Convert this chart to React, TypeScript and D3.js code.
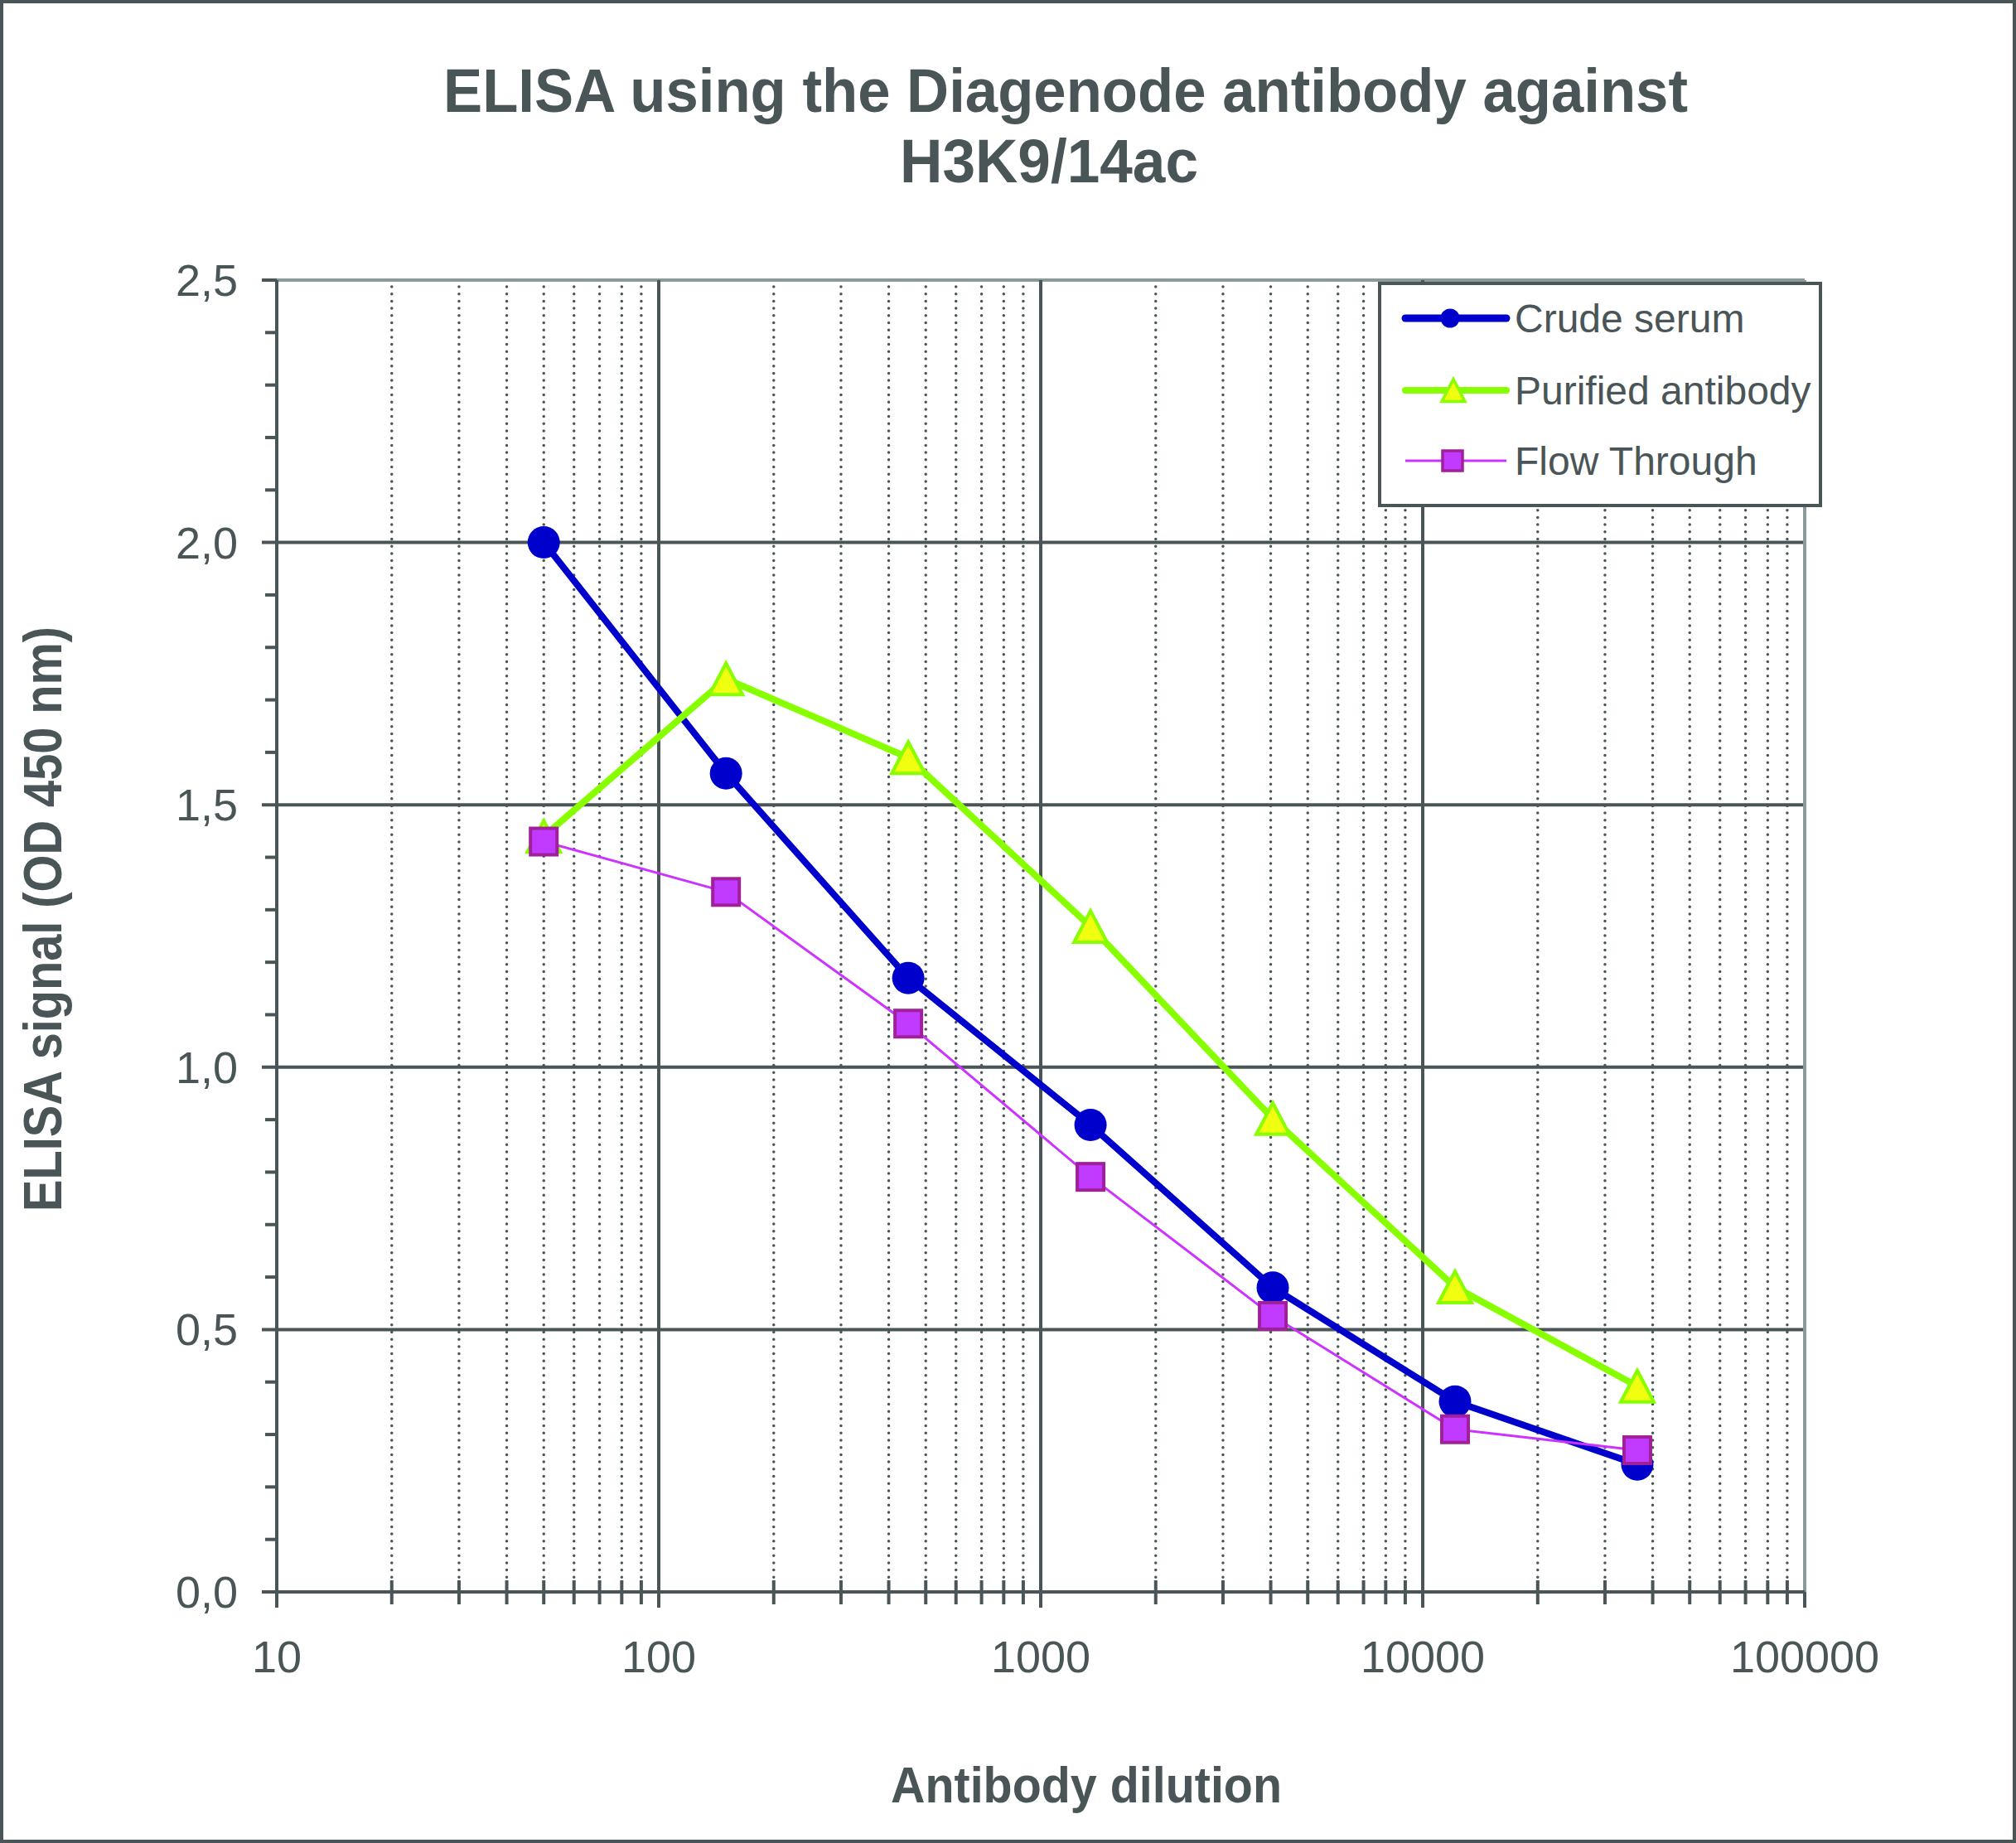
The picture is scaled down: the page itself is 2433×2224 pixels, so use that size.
import * as React from 'react';
import * as d3 from 'd3';

// dilution factors (x) and OD readings per series
const dilutions = [50, 150, 450, 1350, 4050, 12150, 36450];
const crudeSerum = [2.0, 1.56, 1.17, 0.89, 0.58, 0.363, 0.243];
const purifiedAntibody = [1.44, 1.74, 1.59, 1.268, 0.902, 0.581, 0.392];
const flowThrough = [1.43, 1.334, 1.083, 0.791, 0.526, 0.31, 0.27];

const seriesNames = ['Crude serum', 'Purified antibody', 'Flow Through'];
const yTicks = [0, 0.5, 1, 1.5, 2, 2.5];
const yTickLabels = ['0,0', '0,5', '1,0', '1,5', '2,0', '2,5'];
const xTicks = [10, 100, 1000, 10000, 100000];
const xTickLabels = ['10', '100', '1000', '10000', '100000'];

const W = 2433;
const H = 2224;
const INK = '#4a5557';
const LIGHT = '#8a9a98';
const FONT = '"Liberation Sans", Arial, sans-serif';

interface Point { x: number; y: number; }

export default function App() {
    const x = d3.scaleLog().domain([10, 100000]).range([334, 2178]);
    const y = d3.scaleLinear().domain([0, 2.5]).range([1921, 338]);

    const minorX: number[] = [];
    for (let dec = 10; dec < 100000; dec *= 10)
        for (let k = 2; k <= 9; k++) minorX.push(dec * k);
    const minorY = d3.range(0, 26).map(i => i / 10).filter(v => Math.round(v * 10) % 5 !== 0);

    const line = d3.line<Point>().x(p => x(p.x)).y(p => y(p.y));
    const pts = (vals: number[]) => dilutions.map((d, i) => ({ x: d, y: vals[i] }));

    const tri = (cx: number, cy: number, w: number, h: number) =>
        `M${cx},${cy - h / 2}L${cx + w / 2},${cy + h / 2}L${cx - w / 2},${cy + h / 2}Z`;

    const [left, right] = x.range();
    const [bottom, top] = y.range();

    const legendRows = [384, 471, 556];

    return (
        <svg width={W} height={H} style={{ position: 'absolute', left: 0, top: 0, display: 'block', background: '#fff' }}>
            <rect x={2} y={2} width={W - 4} height={H - 4} fill="#fff" stroke={INK} strokeWidth={4} />

            {/* titles */}
            <text x={1286} y={135} textAnchor="middle" fontFamily={FONT} fontWeight="bold" fontSize={74} fill={INK}
                textLength={1502} lengthAdjust="spacingAndGlyphs">ELISA using the Diagenode antibody against</text>
            <text x={1266} y={220} textAnchor="middle" fontFamily={FONT} fontWeight="bold" fontSize={74} fill={INK}
                textLength={360} lengthAdjust="spacingAndGlyphs">H3K9/14ac</text>
            <text transform="translate(74,1109) rotate(-90)" textAnchor="middle" fontFamily={FONT} fontWeight="bold"
                fontSize={64} fill={INK} textLength={706} lengthAdjust="spacingAndGlyphs">ELISA signal (OD 450 nm)</text>
            <text x={1311} y={2175} textAnchor="middle" fontFamily={FONT} fontWeight="bold" fontSize={62} fill={INK}
                textLength={472} lengthAdjust="spacingAndGlyphs">Antibody dilution</text>

            {/* minor vertical grid (dotted) */}
            {minorX.map(v => (
                <g key={'mx' + v}>
                    <line x1={x(v)} x2={x(v)} y1={top + 8} y2={bottom - 16} stroke={INK} strokeWidth={3.5}
                        strokeDasharray="0 8.7" strokeLinecap="round" />
                    <line x1={x(v)} x2={x(v)} y1={bottom - 14} y2={bottom + 15} stroke={INK} strokeWidth={4} />
                </g>
            ))}

            {/* major horizontal grid */}
            {yTicks.map(v => (
                <line key={'gy' + v} x1={316} x2={right} y1={y(v)} y2={y(v)}
                    stroke={v === 2.5 ? LIGHT : INK} strokeWidth={4} />
            ))}
            <line x1={316} x2={left} y1={top} y2={top} stroke={INK} strokeWidth={4} />
            {minorY.map(v => (
                <line key={'my' + v} x1={320} x2={left} y1={y(v)} y2={y(v)} stroke={INK} strokeWidth={4} />
            ))}

            {/* major vertical grid */}
            {xTicks.map(v => (
                <line key={'gx' + v} x1={x(v)} x2={x(v)} y1={top} y2={bottom + 19}
                    stroke={v === 100000 ? LIGHT : INK} strokeWidth={4} />
            ))}
            <line x1={right} x2={right} y1={bottom} y2={bottom + 19} stroke={INK} strokeWidth={4} />

            {/* axes */}
            <line x1={left} x2={left} y1={top} y2={bottom + 19} stroke={INK} strokeWidth={4} />
            <line x1={316} x2={right} y1={bottom} y2={bottom} stroke={INK} strokeWidth={4} />

            {/* tick labels */}
            {yTicks.map((v, i) => (
                <text key={'ly' + v} x={287} y={y(v) + 19} textAnchor="end" fontFamily={FONT} fontSize={54} fill={INK}>
                    {yTickLabels[i]}
                </text>
            ))}
            {xTicks.map((v, i) => (
                <text key={'lx' + v} x={x(v)} y={2018} textAnchor="middle" fontFamily={FONT} fontSize={54} fill={INK}>
                    {xTickLabels[i]}
                </text>
            ))}

            {/* Crude serum */}
            <path d={line(pts(crudeSerum)) || undefined} fill="none" stroke="#0000cc" strokeWidth={8} strokeLinejoin="round" />
            {pts(crudeSerum).map((p, i) => (
                <circle key={'c' + i} cx={x(p.x)} cy={y(p.y)} r={19.5} fill="#0000cc" />
            ))}

            {/* Purified antibody */}
            <path d={line(pts(purifiedAntibody)) || undefined} fill="none" stroke="#88ff00" strokeWidth={8} strokeLinejoin="round" />
            {pts(purifiedAntibody).map((p, i) => (
                <path key={'p' + i} d={tri(x(p.x), y(p.y), 40, 38)} fill="#f0ff10" stroke="#88ff00" strokeWidth={4} />
            ))}

            {/* Flow Through */}
            <path d={line(pts(flowThrough)) || undefined} fill="none" stroke="#cc33ff" strokeWidth={3} />
            {pts(flowThrough).map((p, i) => (
                <rect key={'f' + i} x={x(p.x) - 16} y={y(p.y) - 16} width={32} height={32}
                    fill="#c03aff" stroke="#a0209a" strokeWidth={4} />
            ))}

            {/* legend */}
            <rect x={1665} y={342} width={532} height={268} fill="#fff" stroke={INK} strokeWidth={4} />
            <line x1={1696} x2={1818} y1={legendRows[0]} y2={legendRows[0]} stroke="#0000cc" strokeWidth={9} strokeLinecap="round" />
            <circle cx={1750} cy={legendRows[0]} r={11.5} fill="#0000cc" />
            <line x1={1696} x2={1818} y1={legendRows[1]} y2={legendRows[1]} stroke="#88ff00" strokeWidth={8} strokeLinecap="round" />
            <path d={tri(1754, legendRows[1], 28, 27)} fill="#f0ff10" stroke="#88ff00" strokeWidth={3.5} />
            <line x1={1696} x2={1818} y1={legendRows[2]} y2={legendRows[2]} stroke="#cc33ff" strokeWidth={3} />
            <rect x={1741} y={legendRows[2] - 12} width={24} height={24} fill="#c03aff" stroke="#a0209a" strokeWidth={3.5} />
            {seriesNames.map((n, i) => (
                <text key={n} x={1828} y={legendRows[i] + 17} fontFamily={FONT} fontSize={48} fill={INK}>{n}</text>
            ))}
        </svg>
    );
}
